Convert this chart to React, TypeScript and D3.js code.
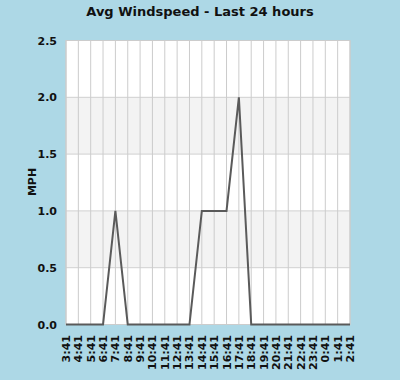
import React from "react";
import * as d3 from "d3";

const categories = ["3:41","4:41","5:41","6:41","7:41","8:41","9:41","10:41","11:41","12:41","13:41","14:41","15:41","16:41","17:41","18:41","19:41","20:41","21:41","22:41","23:41","0:41","1:41","2:41"];
const windspeed = [0,0,0,0,1,0,0,0,0,0,0,1,1,1,2,0,0,0,0,0,0,0,0,0];
const yTicks = [0,0.5,1,1.5,2,2.5];

export default function App() {
  const W = 400, H = 380;
  const left = 66, right = 350, top = 40.5, bottom = 324.5;
  const x = d3.scalePoint<string>().domain(categories).range([left, right]);
  const y = d3.scaleLinear().domain([0, 2.5]).range([bottom, top]);
  const line = d3.line<number>().x((_, i) => x(categories[i]) as number).y(d => y(d));
  const font = "DejaVu Sans, sans-serif";
  const bands = [[0.5, 1], [1.5, 2]];
  return (
    <svg width={W} height={H} style={{ position: "absolute", left: 0, top: 0 }}>
      <rect x={0} y={0} width={W} height={H} fill="#add8e6" />
      <text x={200} y={16} textAnchor="middle" fontFamily={font} fontWeight="bold" fontSize={13} fill="#111">Avg Windspeed - Last 24 hours</text>
      <rect x={left} y={top} width={right - left} height={bottom - top} fill="#ffffff" />
      {bands.map(([a, b], i) => (
        <rect key={i} x={left} y={y(b)} width={right - left} height={y(a) - y(b)} fill="#f3f3f3" />
      ))}
      {yTicks.map(t => (
        <line key={"h" + t} x1={left} x2={right} y1={y(t)} y2={y(t)} stroke="#d0d0d0" strokeWidth={1} />
      ))}
      {categories.map(c => (
        <line key={"v" + c} x1={x(c)} x2={x(c)} y1={top} y2={bottom} stroke="#cccccc" strokeWidth={1} />
      ))}
      <rect x={left} y={top} width={right - left} height={bottom - top} fill="none" stroke="#cccccc" strokeWidth={1} />
      <path d={line(windspeed) || ""} fill="none" stroke="#5a5a5a" strokeWidth={2} />
      {yTicks.map(t => (
        <text key={"yl" + t} x={57} y={y(t) + 4} textAnchor="end" fontFamily={font} fontWeight="bold" fontSize={11} fill="#111">{t.toFixed(1)}</text>
      ))}
      <text transform={`translate(36,182) rotate(-90)`} textAnchor="middle" fontFamily={font} fontWeight="bold" fontSize={11} fill="#111">MPH</text>
      {categories.map(c => (
        <text key={"xl" + c} transform={`translate(${(x(c) as number) + 4},335) rotate(-90)`} textAnchor="end" fontFamily={font} fontWeight="bold" fontSize={11} fill="#111">{c}</text>
      ))}
    </svg>
  );
}
